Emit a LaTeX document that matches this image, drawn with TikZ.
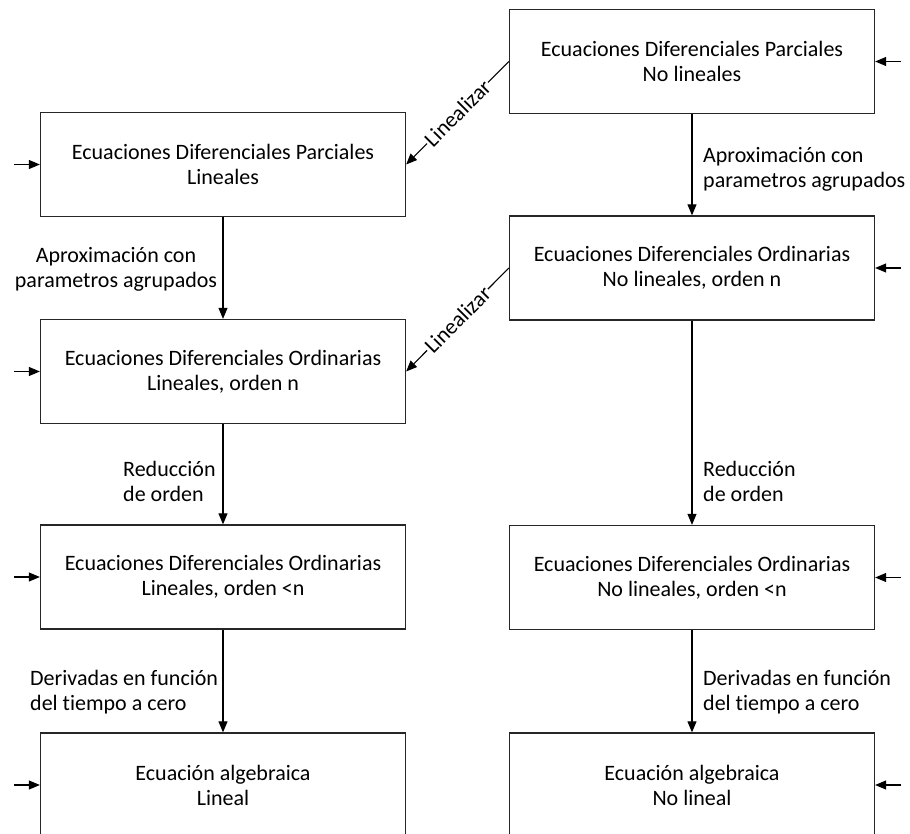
\documentclass[tikz,border=0pt]{standalone}
\usepackage{fontspec}
\setmainfont[Ligatures=NoCommon]{Carlito}
\usetikzlibrary{arrows.meta}
\begin{document}
\begin{tikzpicture}[x=1pt,y=-1pt,
  box/.style={draw=black!85,line width=1.3pt,minimum width=365pt,minimum height=104pt,inner sep=0pt,align=center,
    font=\fontsize{22}{25}\selectfont},
  arr/.style={line width=1.1pt,-{Triangle[length=11pt,width=9pt]}},
  lbl/.style={font=\fontsize{22}{25}\selectfont,inner sep=0pt},
  lin/.style={font=\fontsize{22}{22}\selectfont,fill=white,inner sep=1pt,sloped}]
\useasboundingbox (0,0) rectangle (910,834);
\clip (0,0) rectangle (910,834);
\node[box] (npr) at (692,61.5) {Ecuaciones Diferenciales Parciales\\No lineales};
\node[box] (pl) at (223,164.5) {Ecuaciones Diferenciales Parciales\\Lineales};
\node[box] (nor) at (692,268) {Ecuaciones Diferenciales Ordinarias\\No lineales, orden n};
\node[box] (ol) at (223,371.5) {Ecuaciones Diferenciales Ordinarias\\Lineales, orden n};
\node[box] (olr) at (223,577) {Ecuaciones Diferenciales Ordinarias\\Lineales, orden <n};
\node[box] (nolr) at (692,577.5) {Ecuaciones Diferenciales Ordinarias\\No lineales, orden <n};
\node[box] (al) at (223,785) {Ecuación algebraica\\Lineal};
\node[box] (nal) at (692,785) {Ecuación algebraica\\No lineal};
% input arrows
\coordinate (i1) at (901,61.5);
\coordinate (i2) at (14,164.5);
\coordinate (i3) at (901,268);
\coordinate (i4) at (14,371.5);
\coordinate (i5) at (14,577);
\coordinate (i6) at (901,577.5);
\coordinate (i7) at (14,785);
\coordinate (i8) at (901,785);
\draw[arr] (i1) -- (npr.east);
\draw[arr] (i2) -- (pl.west);
\draw[arr] (i3) -- (nor.east);
\draw[arr] (i4) -- (ol.west);
\draw[arr] (i5) -- (olr.west);
\draw[arr] (i6) -- (nolr.east);
\draw[arr] (i7) -- (al.west);
\draw[arr] (i8) -- (nal.east);
% vertical arrows
\draw[arr] (npr.south) -- (nor.north);
\draw[arr] (pl.south) -- (ol.north);
\draw[arr] (ol.south) -- (olr.north);
\draw[arr] (nor.south) -- (nolr.north);
\draw[arr] (olr.south) -- (al.north);
\draw[arr] (nolr.south) -- (nal.north);
% linealizar
\draw[arr] (npr.west) -- node[lin] (t1) {Linealizar} (pl.east);
\draw[arr] (nor.west) -- node[lin] (t2) {Linealizar} (ol.east);
% labels
\node[lbl,align=center] (a1) at (116,269) {Aproximación con\\parametros agrupados};
\node[lbl,align=left,anchor=west] (a2) at (703,169) {Aproximación con\\parametros agrupados};
\node[lbl,align=left,anchor=west] (a3) at (123,481) {Reducción\\de orden};
\node[lbl,align=left,anchor=west] (a4) at (703,481) {Reducción\\de orden};
\node[lbl,align=left,anchor=west] (a5) at (30,692) {Derivadas en función\\del tiempo a cero};
\node[lbl,align=left,anchor=west] (a6) at (703,692) {Derivadas en función\\del tiempo a cero};
\end{tikzpicture}
\end{document}
